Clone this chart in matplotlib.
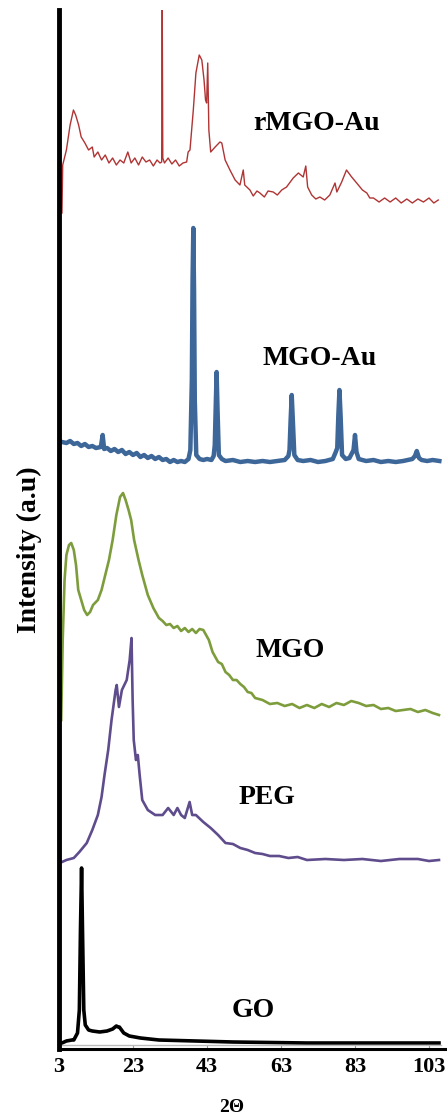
import matplotlib
matplotlib.use("Agg")
import matplotlib.pyplot as plt

# ---------------- data (2-theta in degrees, stacked intensity in a.u.) ----------------
tt_rmgo = [3.8, 4.0, 5.0, 6.0, 6.9, 7.5, 8.3, 9.0, 10.0, 11.0, 12.0, 12.5, 13.5, 14.5, 15.5,
           16.5, 17.5, 18.5, 19.5, 20.5, 21.6, 22.5, 23.5, 24.5, 25.5, 26.5, 27.5, 28.5, 29.5,
           30.3, 30.75, 30.9, 31.05, 31.5, 32.5, 33.5, 34.5, 35.5, 36.5, 37.5, 37.9, 38.4, 39.3,
           40.0, 40.9, 41.6, 42.2, 42.6, 42.9, 43.2, 43.5, 44.0, 45.2, 46.5, 47.0, 47.9, 49.2,
           50.6, 51.9, 52.8, 53.2, 54.6, 55.5, 56.5, 57.3, 58.5, 59.5, 60.9, 62.0, 63.2, 64.5,
           66.3, 67.7, 69.0, 69.7, 70.2, 71.3, 72.4, 73.5, 74.8, 76.2, 77.6, 78.1, 79.4, 80.7,
           82.1, 83.9, 85.0, 86.2, 87.0, 88.0, 89.5, 91.0, 92.5, 94.0, 95.5, 97.0, 98.5, 100.0,
           101.5, 103.0, 104.3, 105.5]
int_rmgo = [836, 884, 899, 924, 939, 934, 924, 912, 906, 899, 902, 892, 897, 889, 894,
            886, 891, 884, 889, 886, 897, 886, 891, 884, 892, 887, 889, 883, 889,
            886, 887, 1039, 891, 886, 891, 885, 889, 883, 886, 887, 897, 899, 939,
            976, 994, 989, 969, 949, 946, 986, 919, 897, 902, 907, 906, 889, 879,
            869, 864, 879, 864, 859, 853, 858, 856, 852, 858, 857, 854, 859, 862,
            871, 876, 872, 883, 862, 854, 850, 852, 849, 854, 866, 857, 867, 879,
            872, 864, 859, 856, 851, 851, 847, 851, 847, 851, 846, 850, 846, 850,
            847, 851, 846, 849]

tt_mgoau = [3.8, 5, 6, 7, 8, 9, 10, 11, 12, 13, 14.3, 14.8, 15.2, 16, 17, 18, 19, 20, 21, 22,
            23, 24, 25, 26, 27, 28, 29, 30, 31, 32, 33, 34, 35, 36, 37, 38.0, 38.5, 38.9, 39.1,
            39.3, 39.5, 39.7, 40.1, 41, 42, 43, 44.2, 44.8, 45.1, 45.4, 45.6, 45.85, 46.2, 47,
            48, 50, 52, 54, 56, 58, 60, 62, 64, 65.0, 65.3, 65.6, 65.9, 66.2, 66.6, 67.5, 69,
            71, 73, 75, 77, 77.8, 78.2, 78.5, 78.8, 79.1, 79.5, 80.5, 81.5, 82.2, 82.6, 83.0,
            83.4, 84, 86, 88, 90, 92, 94, 96, 98.5, 99.2, 99.7, 100.3, 101, 102.5, 104, 105.8]
int_mgoau = [607, 606, 608, 605, 606, 603, 605, 602, 603, 601, 602, 614, 600, 601, 598, 600,
             597, 599, 595, 597, 594, 596, 592, 594, 591, 593, 590, 592, 589, 590, 587, 589,
             587, 588, 587, 590, 599, 669, 769, 821, 759, 649, 594, 590, 589, 590, 589, 593,
             604, 649, 677, 639, 594, 590, 588, 589, 587, 588, 587, 588, 587, 588, 589, 593,
             599, 629, 654, 629, 594, 589, 588, 589, 587, 588, 590, 597, 601, 634, 659, 634,
             594, 590, 591, 596, 599, 614, 597, 590, 588, 589, 587, 588, 587, 588, 590, 593,
             598, 591, 589, 588, 589, 588]

tt_mgo = [3.6, 4.0, 4.5, 5.0, 5.7, 6.3, 7.0, 7.6, 8.2, 9.0, 9.8, 10.6, 11.4, 12.2, 13.5, 14.5,
          15.5, 16.5, 17.5, 18.5, 19.5, 20.3, 21.0, 21.8, 22.5, 23.3, 24.5, 25.5, 27, 28.5, 30,
          31, 32, 33, 34, 35, 36, 37, 38, 39, 40, 41, 42, 43.5, 44.5, 46, 47, 48, 49, 50, 51,
          52, 53, 54, 55, 56, 58, 60, 62, 64, 66, 68, 70, 72, 74, 76, 78, 80, 82, 84, 86, 88,
          90, 92, 94, 96, 98, 100, 102, 104, 105.7]
int_mgo = [329, 409, 469, 494, 504, 506, 499, 484, 459, 449, 439, 434, 437, 444, 449, 459,
           474, 489, 509, 534, 552, 556, 549, 539, 529, 509, 489, 474, 454, 441, 431,
           428, 424, 425, 421, 423, 418, 421, 417, 420, 416, 420, 419, 409, 397, 387, 385,
           377, 374, 369, 369, 365, 362, 357, 356, 351, 349, 345, 346, 343, 345, 341, 344,
           341, 345, 342, 346, 344, 348, 346, 343, 344, 340, 341, 338, 339, 340, 337, 339,
           336, 334]

tt_peg = [3.8, 5, 7, 8.5, 10.5, 12, 13.5, 14.5, 15.3, 16.3, 17.2, 18.3, 18.6, 19.2, 20.0, 21.3,
          22.1, 22.6, 22.9, 23.2, 23.8, 24.3, 24.8, 25.5, 27, 29, 31, 32.5, 34, 35, 36, 37,
          38.3, 39, 40, 42, 44, 46, 48, 50, 52, 54, 56, 58, 60, 62.5, 65, 67.5, 70, 75, 80, 85,
          90, 95, 100, 103, 105.7]
int_peg = [187, 189, 191, 197, 206, 219, 234, 252, 274, 299, 329, 359, 364, 342, 359, 369,
           389, 411, 349, 309, 289, 294, 274, 249, 239, 234, 234, 241, 234, 241, 234, 231,
           247, 234, 234, 227, 221, 214, 206, 205, 201, 199, 196, 195, 193, 193, 191, 192,
           189, 190, 189, 190, 188, 190, 190, 188, 189]

tt_go = [3.8, 5, 6.5, 7.0, 8.0, 8.5, 8.8, 9.1, 9.35, 9.7, 10.1, 11, 12, 14, 16, 17.5, 18.5,
         19.0, 19.3, 20.5, 22, 25, 30, 40, 50, 70, 90, 105.7]
int_go = [6, 8, 9, 9, 16, 39, 119, 181, 119, 39, 24, 19, 18, 17, 18, 20, 23, 22, 22, 16, 13,
          11, 9, 8, 7, 6, 6, 6]

labels = ["rMGO-Au", "MGO-Au", "MGO", "PEG", "GO"]
label_tt = [72.7, 73.5, 65.4, 59.2, 55.4]
label_int = [919, 684, 392, 245, 32]
xticks = [3, 23, 43, 63, 83, 103]

colors = ["#b03434", "#3d6699", "#7d9d3c", "#5f4c8c", "#000000"]
widths = [1.0, 3.2, 1.9, 1.9, 2.6]

# ---------------- figure ----------------
serif = ["Liberation Serif", "DejaVu Serif"]
fig = plt.figure(figsize=(4.47, 11.15), dpi=100)
ax = fig.add_axes([59 / 447, 66 / 1115, 388 / 447, 1039 / 1115])

series = [(tt_rmgo, int_rmgo), (tt_mgoau, int_mgoau), (tt_mgo, int_mgo),
          (tt_peg, int_peg), (tt_go, int_go)]
for (x, y), c, w in zip(series, colors, widths):
    ax.plot(x, y, color=c, lw=w, solid_joinstyle="round")

ax.axhline(4, xmin=0, xmax=0.985, color="#bbbbbb", lw=1.0)

for lab, lx, ly in zip(labels, label_tt, label_int):
    ax.text(lx, ly, lab, ha="center", va="baseline", fontsize=20,
            fontweight="bold", family=serif)

ax.set_xlim(3, 3 + 388 / 3.7)
ax.set_ylim(0, 1039)
ax.set_xticks(xticks)
ax.set_xticklabels([str(t) for t in xticks], fontsize=16, fontweight="bold", family=serif)
ax.tick_params(axis="x", direction="in", length=3, width=0.8, color="#999999", pad=6)
ax.set_yticks([])
for s in ["top", "right"]:
    ax.spines[s].set_visible(False)
ax.spines["left"].set_linewidth(3.5)
ax.spines["bottom"].set_linewidth(2.2)

fig.text(29 / 447, 1 - 550 / 1115, "Intensity (a.u)", rotation=90, ha="center",
         va="center", fontsize=20, fontweight="bold", family=serif)
fig.text(232 / 447, 1 - 1108 / 1115, "2Θ", ha="center", va="center", fontsize=14,
         fontweight="bold", family=serif)

fig.savefig("out.png", dpi=100)
